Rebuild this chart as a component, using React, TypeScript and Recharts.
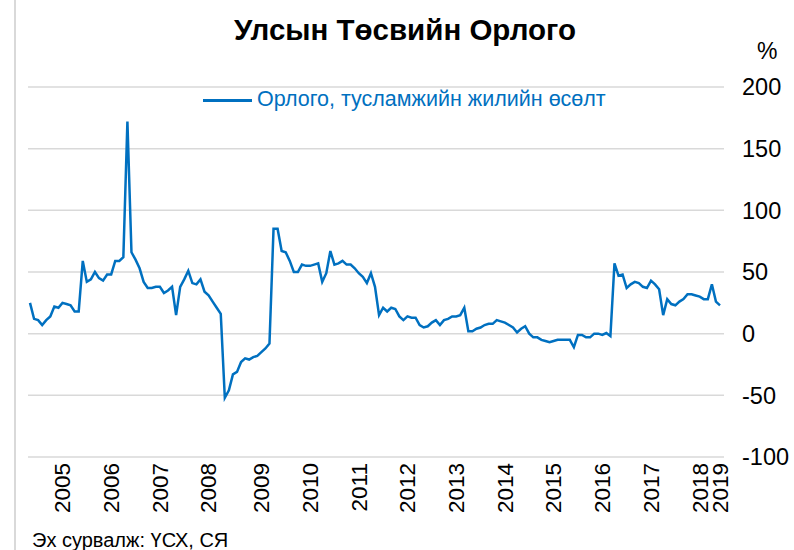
import { LineChart, Line, XAxis, YAxis, CartesianGrid } from 'recharts';

// Орлого, тусламжийн жилийн өсөлт (%), сар бүрийн утга
const values = [
  25, 12, 11, 7, 11, 14, 22, 21, 25, 24,
  23, 18, 18, 59, 42, 44, 50, 45, 43, 48,
  48, 59, 59, 62, 172, 66, 60, 53, 42, 37,
  37, 38, 38, 33, 35, 38, 15, 38, 44, 51,
  41, 40, 44, 34, 31, 26, 21, 16, -52, -46,
  -33, -31, -23, -20, -21, -19, -18, -15, -12, -8,
  85, 85, 67, 66, 59, 50, 50, 56, 55, 55,
  56, 57, 42, 49, 67, 56, 57, 59, 56, 56,
  53, 49, 46, 41, 49, 38, 15, 21, 18, 21,
  20, 14, 11, 14, 13, 13, 7, 5, 6, 9,
  11, 7, 11, 12, 14, 14, 15, 21, 2, 2,
  4, 5, 7, 8, 8, 11, 10, 9, 7, 5,
  1, 4, 6, 0, -3, -3, -5, -6, -7, -6,
  -5, -5, -5, -5, -11, -1, -1, -3, -3, 0,
  0, -1, 0.5, -2, 57, 47, 48, 37, 40, 42,
  41, 38, 37, 43, 40, 36, 15, 28, 24, 23,
  26, 28, 32, 32, 31, 30, 28, 28, 40, 26,
  23,
];

const yearLabels = ['2005', '2006', '2007', '2008', '2009', '2010', '2011', '2012', '2013', '2014', '2015', '2016', '2017', '2018', '2019'];
const yearTickIdx = [8, 20, 32, 44, 57, 69, 81, 93, 105, 117, 129, 141, 153, 165, 170];
const yTicks = [-100, -50, 0, 50, 100, 150, 200];

const data = values.map((v, i) => ({ m: i, v }));

const BLUE = '#0070C0';
const GRID = '#d9d9d9';
const FONT = '"Liberation Sans", Arial, sans-serif';

function YearTick({ x, y, payload }: any) {
  const k = yearTickIdx.indexOf(payload.value);
  if (k < 0) return <g />;
  return (
    <text
      x={x}
      y={y}
      transform={`rotate(-90, ${x}, ${y})`}
      textAnchor="end"
      dy="0.35em"
      fontSize={22.5}
      fill="#000"
      fontFamily={FONT}
    >
      {yearLabels[k]}
    </text>
  );
}

function ValueTick({ x, y, payload }: any) {
  return (
    <text x={x} y={y} textAnchor="start" dy="0.36em" fontSize={23.5} fill="#000" fontFamily={FONT}>
      {payload.value}
    </text>
  );
}

export default function App() {
  return (
    <div style={{ position: 'absolute', left: 0, top: 0, width: 794, height: 550, background: '#fff', fontFamily: FONT }}>
      {/* зүүн талын хүрээ */}
      <div style={{ position: 'absolute', left: 14, top: 0, width: 2, height: 550, background: GRID }} />

      <LineChart width={794} height={550} data={data} margin={{ top: 87, right: 0, bottom: 13, left: 28 }}>
        <CartesianGrid horizontal vertical={false} stroke={GRID} strokeWidth={1.5} />
        <XAxis
          dataKey="m"
          interval={0}
          height={80}
          axisLine={false}
          tickLine={false}
          tickSize={0}
          tickMargin={6}
          padding={{ left: 2, right: 4 }}
          tick={<YearTick />}
        />
        <YAxis
          orientation="right"
          width={70}
          domain={[-100, 200]}
          ticks={yTicks}
          axisLine={false}
          tickLine={false}
          tickSize={0}
          tickMargin={18}
          tick={<ValueTick />}
        />
        <Line
          type="linear"
          dataKey="v"
          stroke={BLUE}
          strokeWidth={2.5}
          dot={false}
          isAnimationActive={false}
        />
      </LineChart>

      <div style={{ position: 'absolute', left: 405, top: 15, transform: 'translateX(-50%)', whiteSpace: 'nowrap', fontSize: 29.5, fontWeight: 'bold', lineHeight: 1, color: '#000' }}>
        Улсын Төсвийн Орлого
      </div>

      <div style={{ position: 'absolute', left: 203, top: 99, width: 49, height: 2.5, background: BLUE }} />
      <div style={{ position: 'absolute', left: 257, top: 89, whiteSpace: 'nowrap', fontSize: 21.5, lineHeight: 1, color: BLUE }}>
        Орлого, тусламжийн жилийн өсөлт
      </div>

      <div style={{ position: 'absolute', left: 757, top: 40, fontSize: 23, lineHeight: 1, color: '#000' }}>%</div>

      <div style={{ position: 'absolute', left: 32, top: 530, whiteSpace: 'nowrap', fontSize: 20, lineHeight: 1, color: '#000' }}>
        Эх сурвалж: ҮСХ, СЯ
      </div>
    </div>
  );
}
